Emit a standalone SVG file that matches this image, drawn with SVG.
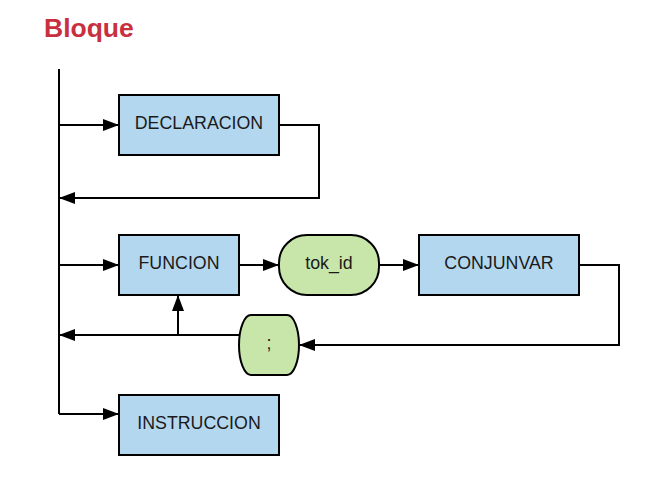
<svg xmlns="http://www.w3.org/2000/svg" width="649" height="483" viewBox="0 0 649 483">
<defs>
<marker id="arr" markerWidth="16" markerHeight="12" refX="16" refY="6" orient="auto" markerUnits="userSpaceOnUse">
<path d="M0,0 L16,6 L0,12 Z" fill="#000"/>
</marker>
<style>
.box{fill:#b4d7f0;stroke:#000;stroke-width:2}
.term{fill:#c8e6aa;stroke:#000;stroke-width:2}
.lbl{font-family:"Liberation Sans",Arial,sans-serif;font-size:17.8px;fill:#1a1a1a;text-anchor:middle;dominant-baseline:central}
.c{fill:none;stroke:#000;stroke-width:2}
</style>
</defs>
<rect width="649" height="483" fill="#fff"/>
<text x="44" y="37" font-family="Liberation Sans,Arial,sans-serif" font-weight="bold" font-size="26.5" fill="#c8303f">Bloque</text>
<g id="connectors">
<path class="c" d="M59,69 V414"/>
<path class="c" d="M59,125 H119" marker-end="url(#arr)"/>
<path class="c" d="M279,125 H319 V198 H59" marker-end="url(#arr)"/>
<path class="c" d="M59,265 H119" marker-end="url(#arr)"/>
<path class="c" d="M239,265 H279" marker-end="url(#arr)"/>
<path class="c" d="M379,265 H419" marker-end="url(#arr)"/>
<path class="c" d="M579,265 H619 V345 H299" marker-end="url(#arr)"/>
<path class="c" d="M239,335 H59" marker-end="url(#arr)"/>
<path class="c" d="M178,335 V295" marker-end="url(#arr)"/>
<path class="c" d="M59,414 H119" marker-end="url(#arr)"/>
</g>
<g id="declaracion"><rect class="box" x="119" y="95" width="160" height="60"/><text class="lbl" x="199" y="123">DECLARACION</text></g>
<g id="funcion"><rect class="box" x="119" y="235" width="120" height="60"/><text class="lbl" x="179" y="263">FUNCION</text></g>
<g id="tok_id"><rect class="term" x="279" y="235" width="100" height="60" rx="28" ry="28"/><text class="lbl" x="329" y="263">tok_id</text></g>
<g id="conjunvar"><rect class="box" x="419" y="235" width="160" height="60"/><text class="lbl" x="499" y="263">CONJUNVAR</text></g>
<g id="semicolon"><rect class="term" x="239" y="315" width="60" height="60" rx="12" ry="30"/><text class="lbl" x="269" y="343">;</text></g>
<g id="instruccion"><rect class="box" x="119" y="395" width="160" height="60"/><text class="lbl" x="199" y="423">INSTRUCCION</text></g>
</svg>
